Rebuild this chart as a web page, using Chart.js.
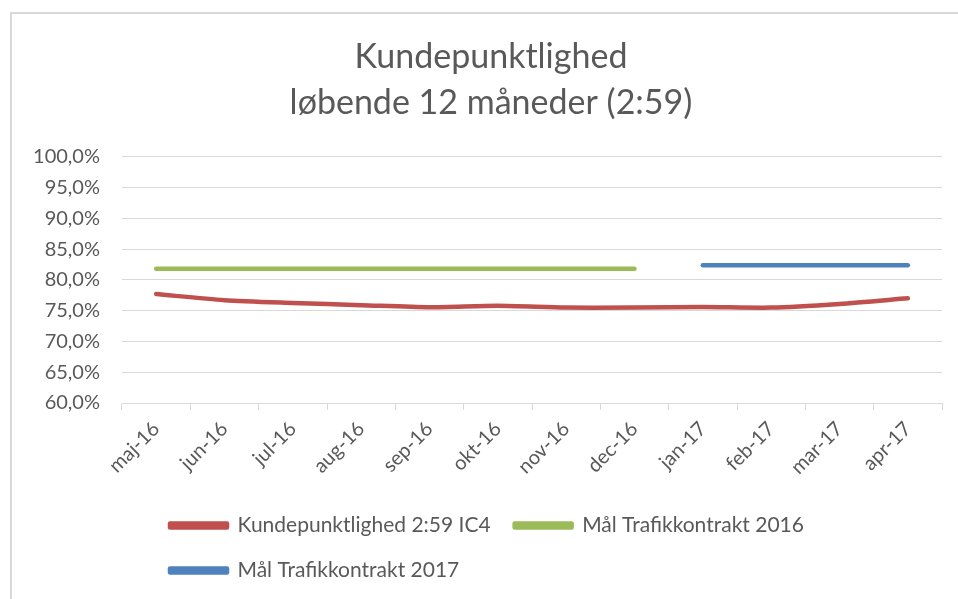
<!DOCTYPE html>
<html>
<head>
<meta charset="utf-8">
<script src="https://cdn.jsdelivr.net/npm/chart.js@4"></script>
<style>
  body { margin: 0; background: #fff; overflow: hidden; }
  #wrap {
    position: absolute; left: 10px; top: 12px;
    width: 946px; height: 585px;
    border-left: 2px solid #d9d9d9; border-top: 2px solid #d9d9d9;
  }
</style>
</head>
<body>
<div id="wrap"><canvas id="chart" width="946" height="585"></canvas></div>
<script>
const months = ["maj-16", "jun-16", "jul-16", "aug-16", "sep-16", "okt-16",
                "nov-16", "dec-16", "jan-17", "feb-17", "mar-17", "apr-17"];
const kundepunktlighed = [77.7, 76.7, 76.25, 75.9, 75.55, 75.8, 75.5, 75.5, 75.6, 75.5, 76.1, 77.0];
const maal2016 = [81.8, 81.8, 81.8, 81.8, 81.8, 81.8, 81.8, 81.8, null, null, null, null];
const maal2017 = [null, null, null, null, null, null, null, null, 82.4, 82.4, 82.4, 82.4];
const yTicks = [60, 65, 70, 75, 80, 85, 90, 95, 100];

const FONT = "Lato";
const TEXT = "#595959";
const GRID = "#d9d9d9";

// legend rows start under the plot, title sits a bit right of canvas centre
const boxShift = {
    id: "boxShift",
    afterUpdate(chart) {
        const lg = chart.legend;
        const pad = lg.options.labels.padding;
        lg.left = 158 - pad;
        lg.right = 870;
        chart.titleBlock.left = 28;
    }
};

function fmt(v) {
    return v.toFixed(1).replace(".", ",") + "%";
}

const ctx = document.getElementById("chart").getContext("2d");
const chart = new Chart(ctx, {
    type: "line",
    data: {
        labels: months,
        datasets: [
            { label: "Kundepunktlighed 2:59 IC4", data: kundepunktlighed, borderColor: "#c0504d", backgroundColor: "#c0504d", tension: 0.25 },
            { label: "Mål Trafikkontrakt 2016", data: maal2016, borderColor: "#9bbb59", backgroundColor: "#9bbb59" },
            { label: "Mål Trafikkontrakt 2017", data: maal2017, borderColor: "#4f81bd", backgroundColor: "#4f81bd" }
        ]
    },
    options: {
        responsive: false,
        animation: false,
        layout: { padding: { left: 0, right: 16, top: 0, bottom: 8 } },
        elements: {
            point: { radius: 0, hoverRadius: 0 },
            line: { borderWidth: 4.5, borderCapStyle: "round", borderJoinStyle: "round", fill: false }
        },
        plugins: {
            title: {
                display: true,
                text: ["Kundepunktlighed", "løbende 12 måneder (2:59)"],
                color: TEXT,
                font: { family: FONT, size: 34, weight: "normal", lineHeight: 1.35 },
                padding: { top: 20, bottom: 31 }
            },
            legend: {
                position: "bottom",
                align: "start",
                fullSize: false,
                labels: {
                    color: TEXT,
                    font: { family: FONT, size: 21 },
                    boxWidth: 57,
                    boxHeight: 4,
                    padding: 24
                }
            },
            tooltip: { enabled: false }
        },
        scales: {
            x: {
                offset: true,
                grid: { offset: true, drawOnChartArea: false, color: GRID, tickLength: 7 },
                border: { color: GRID },
                ticks: { color: TEXT, font: { family: FONT, size: 20 }, minRotation: 45, maxRotation: 45, padding: 7 },
                afterFit(scale) { scale.height = 88; }
            },
            y: {
                min: 60, max: 100,
                afterBuildTicks(scale) { scale.ticks = yTicks.map(v => ({ value: v })); },
                grid: { color: GRID, drawTicks: false },
                border: { display: false },
                ticks: { color: TEXT, font: { family: FONT, size: 20 }, padding: 22, callback: v => fmt(v) },
                afterFit(scale) { scale.width = 110; }
            }
        }
    },
    plugins: [boxShift]
});
</script>
</body>
</html>
